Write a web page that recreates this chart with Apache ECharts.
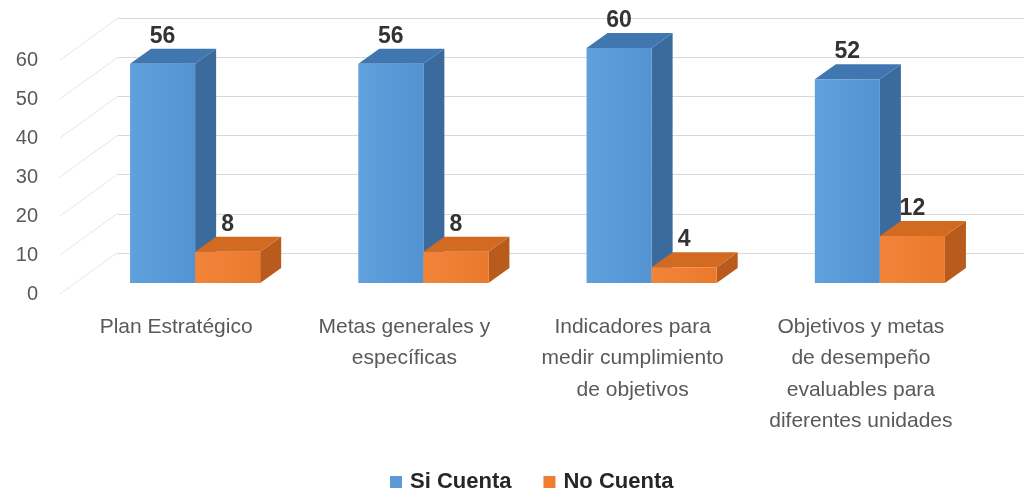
<!DOCTYPE html>
<html>
<head>
<meta charset="utf-8">
<script src="https://cdn.jsdelivr.net/npm/echarts@6/dist/echarts.min.js"></script>
<style>
html,body{margin:0;padding:0;background:#fff;}
#chart{width:1024px;height:497px;}
</style>
</head>
<body>
<div id="chart"></div>
<script>
const categories = [
  'Plan Estratégico',
  'Metas generales y\nespecíficas',
  'Indicadores para\nmedir cumplimiento\nde objetivos',
  'Objetivos y metas\nde desempeño\nevaluables para\ndiferentes unidades'
];
const seriesNames = ['Si Cuenta', 'No Cuenta'];
const siCuenta = [56, 56, 60, 52];
const noCuenta = [8, 8, 4, 12];
const yTicks = [0, 10, 20, 30, 40, 50, 60];

const FONT = '"Liberation Sans", Arial, sans-serif';
const DX = 21, DY = -15;          // oblique depth of each bar
const WALL_DX = 58, WALL_DY = -42; // depth of side wall
const palette = {
  blue:   { front: ['#5fa0dd', '#5393d1'], side: '#3b6b9c', top: '#4077b1' },
  orange: { front: ['#f2843a', '#ea792c'], side: '#b85b1c', top: '#d26a21' }
};

function makeBar(side, pal) {
  return function (params, api) {
    const cat = api.value(0);
    const v = api.value(1);
    const base = api.coord([cat, 0]);
    const top = api.coord([cat, v]);
    const band = api.size([1, 0])[0];
    const w = band * 0.285;
    const cx = base[0];
    const x0 = side === 0 ? cx - w : cx;
    const x1 = x0 + w;
    const yb = base[1], yt = top[1];
    return {
      type: 'group',
      children: [
        { type: 'polygon', shape: { points: [[x1, yt], [x1 + DX, yt + DY], [x1 + DX, yb + DY], [x1, yb]] },
          style: { fill: pal.side } },
        { type: 'polygon', shape: { points: [[x0, yt], [x0 + DX, yt + DY], [x1 + DX, yt + DY], [x1, yt]] },
          style: { fill: pal.top } },
        { type: 'rect', shape: { x: x0, y: yt, width: w, height: yb - yt },
          style: { fill: { type: 'linear', x: 0, y: 0, x2: 1, y2: 0,
            colorStops: [{ offset: 0, color: pal.front[0] }, { offset: 1, color: pal.front[1] }] } } },
        { type: 'text', style: { text: String(v), x: (x0 + x1) / 2, y: yt + DY - 1,
            align: 'center', verticalAlign: 'bottom',
            font: 'bold 23px ' + FONT, fill: '#333333' } }
      ]
    };
  };
}

const chart = echarts.init(document.getElementById('chart'), null, { renderer: 'canvas' });
chart.setOption({
  backgroundColor: '#ffffff',
  animation: false,
  legend: {
    data: seriesNames,
    left: 385, top: 466,
    icon: 'rect', itemWidth: 12, itemHeight: 12, itemGap: 32,
    textStyle: { fontSize: 22, fontWeight: 'bold', color: '#262626', fontFamily: FONT, padding: [0, 0, 0, 3] }
  },
  grid: [
    { left: 118, right: 0, top: 18, height: 235 },   // back wall
    { left: 81, width: 913, top: 48, height: 235 },  // bar front plane
    { left: 62, width: 913, top: 60, height: 234 }   // front of floor / side wall
  ],
  xAxis: [
    { gridIndex: 0, type: 'value', min: 0, max: 1, show: false },
    { gridIndex: 1, type: 'category', data: categories, show: false },
    { gridIndex: 2, type: 'category', data: categories,
      axisLine: { show: false }, axisTick: { show: false },
      axisLabel: { fontSize: 21, color: '#595959', fontFamily: FONT, lineHeight: 31.5, margin: 17, interval: 0 } }
  ],
  yAxis: [
    { gridIndex: 0, type: 'value', min: 0, max: 60, interval: 10,
      axisLine: { show: false }, axisTick: { show: false }, axisLabel: { show: false },
      splitLine: { lineStyle: { color: '#d9d9d9', width: 1 } } },
    { gridIndex: 1, type: 'value', min: 0, max: 60, interval: 10, show: false },
    { gridIndex: 2, type: 'value', min: 0, max: 60, interval: 10,
      axisLine: { show: false }, axisTick: { show: false }, splitLine: { show: false },
      axisLabel: { fontSize: 20, color: '#595959', fontFamily: FONT, margin: 24 } }
  ],
  series: [
    { name: 'wall', type: 'custom', xAxisIndex: 2, yAxisIndex: 2, silent: true, z: 1,
      data: yTicks.map(v => [0, v]),
      renderItem: function (params, api) {
        const p = api.coord([0, api.value(1)]);
        const x = params.coordSys.x - 2;
        return { type: 'line', shape: { x1: x, y1: p[1], x2: x + WALL_DX, y2: p[1] + WALL_DY },
          style: { stroke: '#e6e6e6', lineWidth: 1 } };
      } },
    { name: seriesNames[0], type: 'custom', xAxisIndex: 1, yAxisIndex: 1, z: 3,
      itemStyle: { color: '#5B9BD5' },
      data: siCuenta.map((v, i) => [i, v]),
      renderItem: makeBar(0, palette.blue) },
    { name: seriesNames[1], type: 'custom', xAxisIndex: 1, yAxisIndex: 1, z: 4,
      itemStyle: { color: '#ED7D31' },
      data: noCuenta.map((v, i) => [i, v]),
      renderItem: makeBar(1, palette.orange) }
  ]
});
</script>
</body>
</html>
